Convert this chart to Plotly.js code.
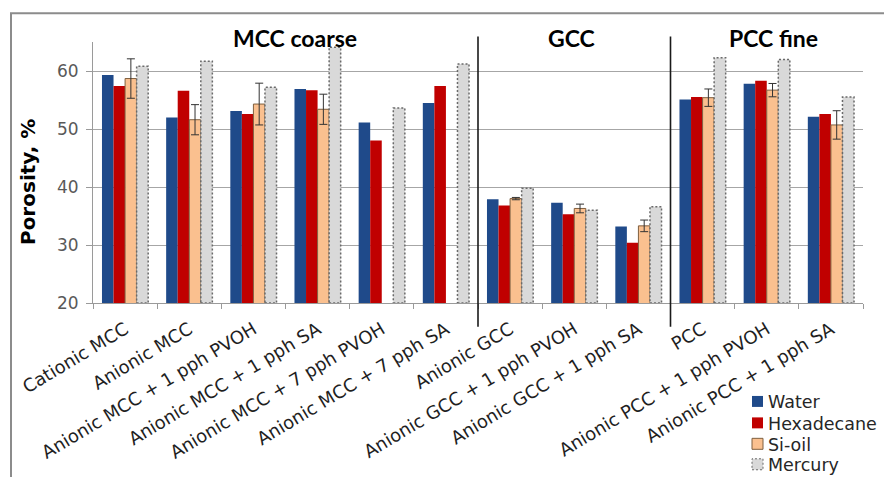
<!DOCTYPE html>
<html>
<head>
<meta charset="utf-8">
<script src="https://cdn.plot.ly/plotly-3.0.1.min.js"></script>
<style>html,body{margin:0;padding:0;background:#fff;}#chart{width:884px;height:477px;}</style>
</head>
<body>
<div id="chart"></div>
<script>
const categories = ["Cationic MCC", "Anionic MCC", "Anionic MCC + 1 pph PVOH", "Anionic MCC + 1 pph SA",
  "Anionic MCC + 7 pph PVOH", "Anionic MCC + 7 pph SA", "Anionic GCC", "Anionic GCC + 1 pph PVOH",
  "Anionic GCC + 1 pph SA", "PCC", "Anionic PCC + 1 pph PVOH", "Anionic PCC + 1 pph SA"];
const water      = [59.3, 52.0, 53.1, 56.9, 51.1, 54.5, 37.9, 37.3, 33.2, 55.1, 57.8, 52.1];
const hexadecane = [57.4, 56.6, 52.6, 56.7, 48.0, 57.4, 36.8, 35.3, 30.4, 55.5, 58.3, 52.6];
const siOil      = [58.7, 51.6, 54.3, 53.4, null, null, 38.0, 36.3, 33.3, 55.4, 56.7, 50.7];
const siOilErr   = [3.4, 2.6, 3.6, 2.6, null, null, 0.2, 0.75, 1.0, 1.5, 1.15, 2.45];
const mercury    = [60.8, 61.7, 57.2, 64.1, 53.6, 61.2, 39.8, 36.0, 36.6, 62.3, 62.0, 55.5];
const seriesNames = ["Water", "Hexadecane", "Si-oil", "Mercury"];
const groupTitles = ["MCC coarse", "GCC", "PCC fine"];
const yTitle = "Porosity, %";
const yTicks = [20, 30, 40, 50, 60];

const BARGAP = 0.28;
const FONT = "DejaVu Sans";
const W = 884, H = 477, ML = 93, MR = 21, MT = 41.6, MB = 173.7;
const PW = W - ML - MR, PH = H - MT - MB;
const pxX = px => (px - ML) / PW;          // pixel -> paper x
const pxY = py => (H - MB - py) / PH;      // pixel -> paper y

const styles = [
  {fill: "#1F4A8A", line: "#1F4A8A", lw: 0, dash: "solid"},
  {fill: "#C00000", line: "#C00000", lw: 0, dash: "solid"},
  {fill: "#FAC08F", line: "#7F5F3F", lw: 1, dash: "solid"},
  {fill: "#D9D9D9", line: "#6a6a6a", lw: 1.5, dash: "2px,2px"}
];

const traces = [water, hexadecane, siOil, mercury].map((vals, k) => {
  const t = {type: "bar", name: seriesNames[k], x: categories, y: vals,
    marker: {color: styles[k].fill, line: {color: styles[k].line, width: k === 2 ? 1 : 0}}};
  if (k === 2) t.error_y = {type: "data", array: siOilErr, visible: true, color: "#333333", thickness: 1, width: 4};
  return t;
});

const shapes = [];
const groupW = 1 - BARGAP, barW = groupW / 4;
// dotted outline for mercury bars, positioned on the category axis from the data
mercury.forEach((v, i) => {
  shapes.push({type: "rect", xref: "x", yref: "y", x0: i - groupW / 2 + 3 * barW, x1: i + groupW / 2,
    y0: 20, y1: v, line: {color: styles[3].line, width: 1.5, dash: styles[3].dash}, fillcolor: "rgba(0,0,0,0)"});
});
// group separators
[0.5, 0.75].forEach(px => {
  shapes.push({type: "line", xref: "paper", yref: "paper", x0: px, x1: px, y0: pxY(327), y1: pxY(36),
    line: {color: "#1a1a1a", width: 1.6}});
});
// outer frame (top and left)
shapes.push({type: "path", xref: "paper", yref: "paper",
  path: `M ${pxX(11)},${pxY(480)} L ${pxX(11)},${pxY(12.7)} L ${pxX(890)},${pxY(12.7)}`,
  line: {color: "#8c8c8c", width: 2}});

const groupPos = [2.65, 6.95, 10.1];
const annotations = groupTitles.map((t, k) => ({
  text: "<b>" + t + "</b>", xref: "x", yref: "paper", x: groupPos[k], y: pxY(38), showarrow: false,
  xanchor: "center", yanchor: "middle", font: {family: "Lato", size: 23, color: "#000"}
}));

// y axis title
annotations.push({text: "<b>" + yTitle + "</b>", xref: "paper", yref: "paper", x: pxX(28), y: pxY(182),
  textangle: -90, showarrow: false, xanchor: "center", yanchor: "middle",
  font: {family: FONT, size: 20, color: "#000"}});

// manual legend
const legRows = [402, 423.5, 444.5, 465];
seriesNames.forEach((n, k) => {
  const cy = legRows[k];
  shapes.push({type: "rect", xref: "paper", yref: "paper", x0: pxX(752), x1: pxX(763), y0: pxY(cy + 5.5), y1: pxY(cy - 5.5),
    fillcolor: styles[k].fill, line: {color: styles[k].line, width: k >= 2 ? 1 : 0, dash: styles[k].dash}});
  annotations.push({text: n, xref: "paper", yref: "paper", x: pxX(766), y: pxY(cy + 1), xanchor: "left", yanchor: "middle",
    showarrow: false, font: {family: FONT, size: 17.5, color: "#262626"}});
});

const layout = {
  width: W, height: H,
  margin: {l: ML, r: MR, t: MT, b: MB, pad: 0},
  paper_bgcolor: "#fff", plot_bgcolor: "#fff",
  barmode: "group", bargap: BARGAP, bargroupgap: 0,
  font: {family: FONT, color: "#262626"},
  showlegend: false,
  xaxis: {type: "category", tickson: "boundaries", ticks: "outside", ticklen: 5, tickcolor: "#9a9a9a",
    showline: true, linecolor: "#9a9a9a", linewidth: 1, tickangle: -31, showgrid: false,
    tickfont: {family: FONT, size: 18, color: "#1f1f1f"}, automargin: false, ticklabelstandoff: 8},
  yaxis: {range: [20, 65], tickvals: yTicks, ticktext: yTicks.map(String), showgrid: true, gridcolor: "#a6a6a6",
    gridwidth: 1, zeroline: false, showline: true, linecolor: "#9a9a9a", ticks: "outside", ticklen: 6,
    tickcolor: "#9a9a9a", tickfont: {family: FONT, size: 17, color: "#595959"}, automargin: false,
    ticklabelstandoff: 4},
  shapes: shapes,
  annotations: annotations
};

Plotly.newPlot("chart", traces, layout, {displayModeBar: false, staticPlot: true});
</script>
</body>
</html>
